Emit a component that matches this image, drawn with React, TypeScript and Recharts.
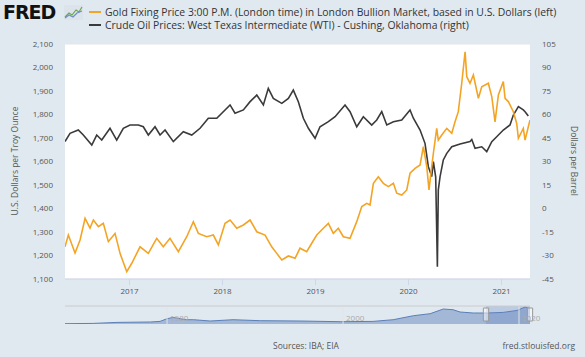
import React from "react";
import {
  Area,
  AreaChart,
  CartesianGrid,
  Line,
  LineChart,
  ReferenceArea,
  ReferenceLine,
  XAxis,
  YAxis,
} from "recharts";

// gold fixing price, USD per troy ounce (left axis)
const goldYears = [
  2016.306, 2016.342, 2016.414, 2016.468, 2016.522, 2016.575, 2016.611, 2016.665,
  2016.718, 2016.772, 2016.844, 2016.898, 2016.97, 2017.024, 2017.113, 2017.202,
  2017.292, 2017.363, 2017.435, 2017.525, 2017.615, 2017.686, 2017.74, 2017.83,
  2017.901, 2017.955, 2018.027, 2018.081, 2018.153, 2018.224, 2018.296, 2018.368,
  2018.457, 2018.529, 2018.583, 2018.637, 2018.708, 2018.78, 2018.833, 2018.905,
  2018.959, 2019.013, 2019.084, 2019.138, 2019.191, 2019.245, 2019.299, 2019.371,
  2019.443, 2019.497, 2019.551, 2019.586, 2019.622, 2019.675, 2019.729, 2019.783,
  2019.837, 2019.873, 2019.927, 2019.981, 2020.016, 2020.07, 2020.124, 2020.159,
  2020.196, 2020.22, 2020.249, 2020.267, 2020.303, 2020.32, 2020.357, 2020.411,
  2020.465, 2020.5, 2020.535, 2020.572, 2020.608, 2020.626, 2020.661, 2020.697,
  2020.751, 2020.787, 2020.858, 2020.895, 2020.93, 2020.966, 2021.019, 2021.038,
  2021.073, 2021.127, 2021.163, 2021.181, 2021.234, 2021.253, 2021.288, 2021.306,
];
const goldPrices = [
  1237, 1287, 1211, 1266, 1358, 1317, 1351, 1323, 1337, 1259, 1294, 1209, 1131, 1167,
  1237, 1209, 1273, 1237, 1273, 1216, 1280, 1344, 1294, 1280, 1287, 1245, 1337, 1351,
  1316, 1330, 1351, 1301, 1287, 1237, 1209, 1181, 1198, 1188, 1231, 1216, 1252, 1287,
  1316, 1337, 1294, 1316, 1280, 1273, 1344, 1408, 1422, 1415, 1507, 1535, 1507, 1493,
  1507, 1465, 1457, 1479, 1550, 1571, 1585, 1663, 1578, 1479, 1578, 1635, 1741, 1691,
  1713, 1741, 1720, 1769, 1812, 1933, 2067, 1961, 1933, 1968, 1869, 1918, 1933, 1876,
  1769, 1883, 1940, 1869, 1855, 1812, 1762, 1699, 1741, 1691, 1748, 1777,
];

// WTI crude, USD per barrel (right axis)
const oilYears = [
  2016.306, 2016.36, 2016.449, 2016.503, 2016.594, 2016.647, 2016.701, 2016.79,
  2016.862, 2016.933, 2017.005, 2017.095, 2017.148, 2017.202, 2017.274, 2017.328,
  2017.382, 2017.471, 2017.578, 2017.669, 2017.758, 2017.847, 2017.938, 2018.081,
  2018.134, 2018.224, 2018.296, 2018.368, 2018.439, 2018.492, 2018.546, 2018.637,
  2018.708, 2018.761, 2018.815, 2018.869, 2018.923, 2018.995, 2019.048, 2019.138,
  2019.21, 2019.317, 2019.371, 2019.443, 2019.514, 2019.604, 2019.658, 2019.712,
  2019.766, 2019.837, 2019.927, 2020.016, 2020.052, 2020.124, 2020.177, 2020.213,
  2020.249, 2020.267, 2020.292, 2020.31, 2020.32, 2020.339, 2020.374, 2020.411,
  2020.465, 2020.554, 2020.661, 2020.68, 2020.715, 2020.787, 2020.841, 2020.895,
  2020.948, 2021.019, 2021.091, 2021.127, 2021.181, 2021.234, 2021.253, 2021.288,
];
const oilPrices = [
  42.7, 48, 50.1, 46.9, 40.5, 46.9, 43.7, 51.2, 43.7, 51.2, 53.3, 53.3, 52.2, 46.9,
  52.2, 46.9, 50.1, 42.7, 49, 46.9, 51.2, 57.6, 57.6, 66.1, 60.8, 62.9, 68.2, 72.4,
  66.1, 76.7, 70.3, 67.1, 70.3, 75.6, 68.2, 57.6, 51.2, 44.8, 52.2, 55.4, 58.6, 66.1,
  61.8, 52.2, 58.6, 53.3, 56.5, 61.8, 53.3, 55.4, 56.5, 62.9, 57.6, 50.1, 41.6, 26.7,
  20.4, 29.9, 20, -37.1, 11.8, 20.3, 31, 35.2, 39.4, 41.2, 42.7, 44, 38.4, 39.4, 36.3,
  42.7, 45.8, 50.1, 53.3, 59.7, 65, 62.9, 61.8, 59,
];

// navigator: long-run gold history
const navYears = [
  1968.4, 1971.6, 1974.3, 1978.1, 1979.2, 1980.0, 1980.7, 1981.5, 1982.2, 1983.0,
  1984.9, 1987.5, 1990.6, 1995.1, 1999.7, 2003.4, 2005.7, 2008.0, 2009.9, 2011.4,
  2012.5, 2013.3, 2014.8, 2016.4, 2018.2, 2019.8, 2020.7, 2021.25,
];
const navGold = [
  34, 67, 179, 224, 290, 592, 738, 592, 480, 480, 335, 480, 369, 335, 257, 290, 480,
  927, 1151, 1676, 1598, 1341, 1229, 1229, 1296, 1520, 1900, 1676,
];

const yearTicks = [2017, 2018, 2019, 2020, 2021];
const goldTicks = [1100, 1200, 1300, 1400, 1500, 1600, 1700, 1800, 1900, 2000, 2100];
const oilTicks = [-45, -30, -15, 0, 15, 30, 45, 60, 75, 90, 105];
const navTicks = [1980, 2000, 2020];

const goldData = goldYears.map((t, i) => ({ t, v: goldPrices[i] }));
const oilData = oilYears.map((t, i) => ({ t, v: oilPrices[i] }));
const navData = navYears.map((t, i) => ({ t, v: navGold[i] }));

const FONT = "'Open Sans', sans-serif";
const GOLD = "#f4a424";
const OIL = "#3a3a3a";

function FredLogo() {
  return (
    <div style={{ position: "absolute", left: 3, top: 1 }}>
      <span
        style={{
          fontFamily: "'DejaVu Sans', sans-serif",
          fontWeight: 900,
          fontSize: 19,
          letterSpacing: -1,
          color: "#111",
        }}
      >
        FRED
      </span>
      <svg
        width={19}
        height={15}
        style={{ position: "absolute", left: 61, top: 4 }}
      >
        <rect x={0} y={0} width={19} height={15} fill="#dde3ea" />
        <polyline
          points="1,12 5,8 8,10 12,5 15,7 18,2"
          fill="none"
          stroke="#6aa84f"
          strokeWidth={1.2}
        />
        <polyline
          points="1,13 5,10 9,12 13,8 18,6"
          fill="none"
          stroke="#6d8fc7"
          strokeWidth={1.2}
        />
      </svg>
    </div>
  );
}

function LegendRow({ color, text, top }: { color: string; text: string; top: number }) {
  return (
    <div style={{ position: "absolute", left: 89, top, display: "flex", alignItems: "center", height: 14 }}>
      <div style={{ width: 12, height: 2, background: color, marginRight: 4 }} />
      <span style={{ fontFamily: FONT, fontSize: 10.4, color: "#333", whiteSpace: "nowrap" }}>
        {text}
      </span>
    </div>
  );
}

const navLabel = (txt: string) => (props: any) => {
  const vb = props.viewBox || {};
  return (
    <text x={(vb.x ?? 0) + 3} y={(vb.y ?? 0) + 15} fill="#aaa" fontSize={8} fontFamily={FONT}>
      {txt}
    </text>
  );
};

export default function App() {
  return (
    <div
      style={{
        position: "absolute",
        left: 0,
        top: 0,
        width: 585,
        height: 357,
        background: "#e1e9f0",
        overflow: "hidden",
      }}
    >
      <FredLogo />
      <LegendRow
        color={GOLD}
        top={5}
        text="Gold Fixing Price 3:00 P.M. (London time) in London Bullion Market, based in U.S. Dollars (left)"
      />
      <LegendRow
        color={OIL}
        top={18}
        text="Crude Oil Prices: West Texas Intermediate (WTI) - Cushing, Oklahoma (right)"
      />

      <div style={{ position: "absolute", left: 0, top: 0 }}>
        <LineChart
          width={585}
          height={300}
          margin={{ top: 44, right: 0, bottom: 0, left: 0 }}
        >
          <CartesianGrid vertical={false} stroke="#e6e6e6" fill="#ffffff" />
          <XAxis
            type="number"
            dataKey="t"
            domain={[2016.306, 2021.306]}
            ticks={yearTicks}
            allowDataOverflow
            height={21}
            tickSize={6}
            tickMargin={3}
            stroke="#ccd6eb"
            tick={{ fill: "#555", fontSize: 8, fontFamily: FONT }}
          />
          <YAxis
            yAxisId="left"
            orientation="left"
            width={65}
            domain={[1100, 2100]}
            ticks={goldTicks}
            interval={0}
            axisLine={false}
            tickLine={false}
            tickSize={0}
            tickMargin={12}
            tickFormatter={(v: number) => v.toLocaleString("en-US")}
            tick={{ fill: "#555", fontSize: 8, fontFamily: FONT }}
          />
          <YAxis
            yAxisId="right"
            orientation="right"
            width={55}
            domain={[-45, 105]}
            ticks={oilTicks}
            interval={0}
            axisLine={false}
            tickLine={false}
            tickSize={0}
            tickMargin={12}
            tick={{ fill: "#555", fontSize: 8, fontFamily: FONT, textAnchor: "start" }}
          />
          <Line
            yAxisId="right"
            data={oilData}
            dataKey="v"
            type="linear"
            stroke={OIL}
            strokeWidth={1.6}
            dot={false}
            isAnimationActive={false}
          />
          <Line
            yAxisId="left"
            data={goldData}
            dataKey="v"
            type="linear"
            stroke={GOLD}
            strokeWidth={1.6}
            dot={false}
            isAnimationActive={false}
          />
        </LineChart>
      </div>

      <div
        style={{
          position: "absolute",
          left: 14,
          top: 161,
          transform: "translate(-50%, -50%) rotate(-90deg)",
          fontFamily: FONT,
          fontSize: 8.5,
          color: "#555",
          whiteSpace: "nowrap",
        }}
      >
        U.S. Dollars per Troy Ounce
      </div>
      <div
        style={{
          position: "absolute",
          left: 574,
          top: 161,
          transform: "translate(-50%, -50%) rotate(90deg)",
          fontFamily: FONT,
          fontSize: 8.5,
          color: "#555",
          whiteSpace: "nowrap",
        }}
      >
        Dollars per Barrel
      </div>

      <div style={{ position: "absolute", left: 0, top: 300 }}>
        <AreaChart
          width={585}
          height={30}
          data={navData}
          margin={{ top: 6, right: 55, bottom: 6, left: 65 }}
        >
          <XAxis type="number" dataKey="t" domain={[1968.4, 2021.25]} hide allowDataOverflow />
          <YAxis domain={[0, 2012]} hide allowDataOverflow />
          {navTicks.map((y) => (
            <ReferenceLine
              key={y}
              x={y}
              stroke="#e4e4e4"
              ifOverflow="visible"
              label={navLabel(String(y))}
            />
          ))}
          <ReferenceLine y={2012} stroke="#cccccc" />
          <Area
            dataKey="v"
            type="linear"
            stroke="#5a7fb8"
            strokeWidth={1}
            fill="#a3b7d6"
            fillOpacity={1}
            isAnimationActive={false}
          />
          <ReferenceArea
            x1={2016.24}
            x2={2021.25}
            y1={0}
            y2={2012}
            fill="rgb(102,133,194)"
            fillOpacity={0.3}
            stroke="none"
            ifOverflow="visible"
          />
          <ReferenceArea
            x1={2015.95}
            x2={2016.55}
            y1={335}
            y2={1790}
            fill="#ffffff"
            stroke="#999"
            ifOverflow="visible"
          />
          <ReferenceArea
            x1={2020.95}
            x2={2021.55}
            y1={335}
            y2={1790}
            fill="#ffffff"
            stroke="#999"
            ifOverflow="visible"
          />
        </AreaChart>
      </div>

      <div
        style={{
          position: "absolute",
          left: 306,
          top: 345,
          transform: "translate(-50%, -50%)",
          fontFamily: FONT,
          fontSize: 8.5,
          color: "#555",
          whiteSpace: "nowrap",
        }}
      >
        Sources: IBA; EIA
      </div>
      <div
        style={{
          position: "absolute",
          right: 10,
          top: 345,
          transform: "translateY(-50%)",
          fontFamily: FONT,
          fontSize: 8.5,
          color: "#555",
          whiteSpace: "nowrap",
        }}
      >
        fred.stlouisfed.org
      </div>
    </div>
  );
}
